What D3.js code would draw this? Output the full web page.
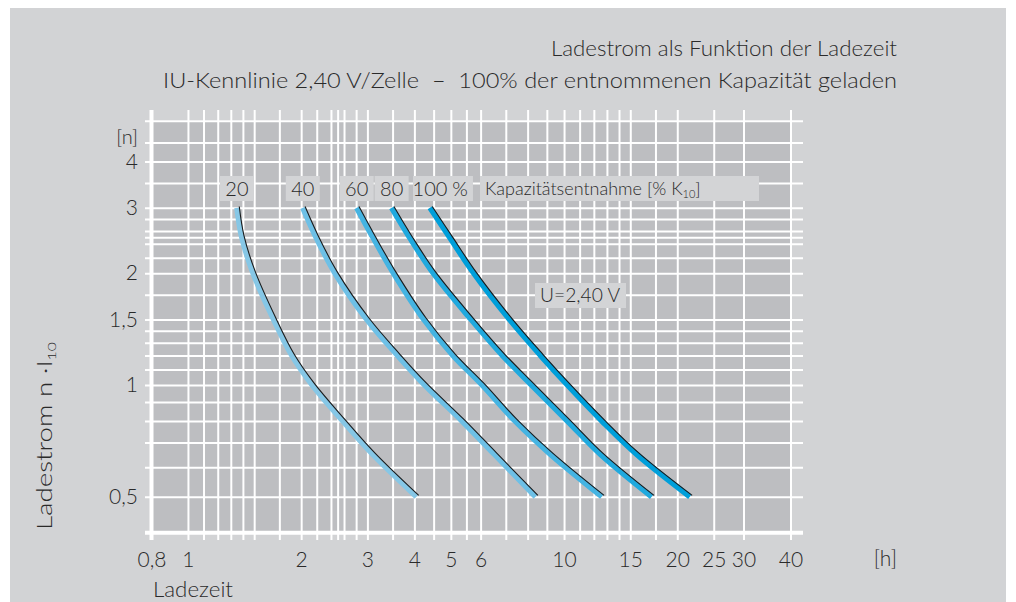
<!DOCTYPE html>
<html>
<head>
<meta charset="utf-8">
<script src="https://cdn.jsdelivr.net/npm/d3@7"></script>
<style>
  html, body { margin: 0; padding: 0; background: #ffffff; }
  svg { display: block; }
  text { font-family: Lato, "Open Sans", "DejaVu Sans", sans-serif; font-weight: 300; fill: #2a2a2a; }
</style>
</head>
<body>
<svg id="chart" width="1016" height="602"></svg>
<script>
// Charging current (multiples of I10) reached at each charging time, one curve per discharged capacity
const capacityLevels = [20, 40, 60, 80, 100];
const currentLevels = [3, 2.5, 2, 1.5, 1.2, 1, 0.8, 0.65, 0.5];
const hours20  = [1.35, 1.39, 1.49, 1.69, 1.89, 2.14, 2.58, 3.10, 4.05];
const hours40  = [2.02, 2.19, 2.46, 2.99, 3.61, 4.26, 5.35, 6.53, 8.40];
const hours60  = [2.81, 3.10, 3.52, 4.24, 5.07, 6.05, 7.40, 9.20, 12.6];
const hours80  = [3.48, 3.88, 4.49, 5.66, 6.86, 8.19, 10.2, 12.5, 17.1];
const hours100 = [4.40, 4.96, 5.75, 7.16, 8.66, 10.2, 12.6, 15.6, 21.6];
const curveColors = ["#86c7e6", "#6ec0e6", "#45b4e2", "#20a9de", "#009fda"];

// Axis ticks and grid
const xTickValues = [0.8, 1, 2, 3, 4, 5, 6, 10, 15, 20, 25, 30, 40];
const xTickLabels = ["0,8", "1", "2", "3", "4", "5", "6", "10", "15", "20", "25", "30", "40"];
const xGridValues = [1, 1.1, 1.2, 1.3, 1.4, 1.5, 1.75, 2, 2.2, 2.4, 2.5, 2.6, 2.8, 3, 3.5, 4, 4.5, 5, 5.5, 6, 7, 8, 9, 10, 11, 12, 13, 14, 15, 17.5, 20, 25, 30, 40];
const yTickValues = [4, 3, 2, 1.5, 1, 0.5];
const yTickLabels = ["4", "3", "2", "1,5", "1", "0,5"];
const yGridValues = [0.5, 0.6, 0.7, 0.8, 0.9, 1, 1.1, 1.2, 1.3, 1.4, 1.5, 1.75, 2, 2.2, 2.4, 2.5, 2.6, 2.8, 3, 3.5, 4, 4.5];

const seriesHours = [hours20, hours40, hours60, hours80, hours100];

const svg = d3.select("#chart");

// scales: logarithmic on both axes
const x = d3.scaleLog().domain([0.8, 40]).range([151.5, 790.5]);
const y = d3.scaleLog().domain([0.4, 5.15]).range([532.7, 120.7]);

const gridLeft = 145, gridRight = 803, gridTop = 110, gridBottom = 540;

// stretch a text element to a given advance width
function fit(sel, width) {
  sel.attr("textLength", width).attr("lengthAdjust", "spacingAndGlyphs");
  return sel;
}

// panel background
svg.append("rect").attr("x", 10).attr("y", 8).attr("width", 996).attr("height", 594).attr("fill", "#d2d3d5");

// plot area
svg.append("rect")
  .attr("x", x(0.8)).attr("y", y(5.15))
  .attr("width", x(40) - x(0.8)).attr("height", y(0.4) - y(5.15))
  .attr("fill", "#bdbec1");

// vertical grid
const gx = svg.append("g").attr("transform", `translate(0,${gridBottom})`)
  .call(d3.axisBottom(x).tickValues(xGridValues).tickSize(-(gridBottom - gridTop)).tickSizeOuter(0).tickFormat(""));
gx.select(".domain").remove();
gx.selectAll("line").attr("stroke", "#ffffff").attr("stroke-width", 2);

// horizontal grid
const gy = svg.append("g").attr("transform", `translate(${gridLeft},0)`)
  .call(d3.axisLeft(y).tickValues(yGridValues.concat([5.15])).tickSize(-(gridRight - gridLeft)).tickSizeOuter(0).tickFormat(""));
gy.select(".domain").remove();
gy.selectAll("line").attr("stroke", "#ffffff").attr("stroke-width", 2);

// heavy axis lines
svg.append("line").attr("x1", x(0.8)).attr("x2", x(0.8)).attr("y1", gridTop).attr("y2", gridBottom)
  .attr("stroke", "#ffffff").attr("stroke-width", 4);
svg.append("line").attr("x1", gridLeft).attr("x2", gridRight).attr("y1", y(0.4)).attr("y2", y(0.4))
  .attr("stroke", "#ffffff").attr("stroke-width", 4);

// curves
const line = d3.line().x(d => x(d.t)).y(d => y(d.n)).curve(d3.curveCatmullRom.alpha(0.5));
const series = capacityLevels.map((c, i) => ({
  cap: c,
  color: curveColors[i],
  pts: currentLevels.map((n, j) => ({ n: n, t: seriesHours[i][j] }))
}));

const curves = svg.append("g");
series.forEach(s => {
  curves.append("path").attr("d", line(s.pts)).attr("fill", "none")
    .attr("stroke", s.color).attr("stroke-width", 5.5);
  curves.append("path").attr("d", line(s.pts)).attr("fill", "none")
    .attr("stroke", "#1b1b1b").attr("stroke-width", 1.1)
    .attr("transform", "translate(2.3,-1.3)");
});

// curve labels along the top of the curves
const boxFill = "#d3d4d6";
const boxTop = 176, boxH = 25;
series.forEach((s, i) => {
  const cx = x(s.pts[0].t);
  const last = i === series.length - 1;
  const x0 = cx - 17, w = last ? 60 : 34;
  svg.append("rect").attr("x", x0).attr("y", boxTop).attr("width", w).attr("height", boxH).attr("fill", boxFill);
  svg.append("text").attr("x", cx).attr("y", boxTop + 20).attr("text-anchor", "middle")
    .attr("font-size", 20).text(s.cap);
  if (last) {
    svg.append("text").attr("x", cx + 30).attr("y", boxTop + 20).attr("text-anchor", "middle")
      .attr("font-size", 20).text("%");
  }
});

// caption box
svg.append("rect").attr("x", 480).attr("y", boxTop).attr("width", 279).attr("height", boxH).attr("fill", boxFill);
const cap = svg.append("text").attr("x", 485).attr("y", boxTop + 19).attr("font-size", 18);
cap.append("tspan").text("Kapazitätsentnahme [% K");
cap.append("tspan").attr("font-size", 11).attr("dy", 3).text("10");
cap.append("tspan").attr("dy", -3).text("]");

// voltage box
svg.append("rect").attr("x", 535).attr("y", 283).attr("width", 91).attr("height", 25).attr("fill", boxFill);
fit(svg.append("text").attr("x", 540).attr("y", 302).attr("font-size", 20).text("U=2,40 V"), 80);

// tick labels
const xa = svg.append("g").attr("transform", `translate(0,${gridBottom})`)
  .call(d3.axisBottom(x).tickValues(xTickValues).tickSize(0).tickPadding(12)
    .tickFormat((d, i) => xTickLabels[i]));
xa.select(".domain").remove();
xa.selectAll("text").attr("font-size", 21).attr("font-family", null).attr("fill", "#2a2a2a");

const ya = svg.append("g").attr("transform", `translate(${x(0.8)},0)`)
  .call(d3.axisLeft(y).tickValues(yTickValues).tickSize(0).tickPadding(13.5)
    .tickFormat((d, i) => yTickLabels[i]));
ya.select(".domain").remove();
ya.selectAll("text").attr("font-size", 21).attr("font-family", null).attr("fill", "#2a2a2a");

svg.append("text").attr("x", 138).attr("y", 144).attr("text-anchor", "end").attr("font-size", 20).text("[n]");
svg.append("text").attr("x", 897).attr("y", 566).attr("text-anchor", "end").attr("font-size", 21).text("[h]");
fit(svg.append("text").attr("x", 153).attr("y", 597).attr("font-size", 21).text("Ladezeit"), 80);

// y axis title
const yt = svg.append("text").attr("transform", "translate(52,436) rotate(-90)")
  .attr("text-anchor", "middle").attr("font-size", 21);
yt.append("tspan").text("Ladestrom n ·I");
yt.append("tspan").attr("font-size", 12).attr("dy", 4).text("10");
fit(yt, 188);

// titles
fit(svg.append("text").attr("x", 551).attr("y", 56).attr("font-size", 21)
  .text("Ladestrom als Funktion der Ladezeit"), 346);
fit(svg.append("text").attr("x", 163).attr("y", 88).attr("font-size", 21)
  .text("IU-Kennlinie 2,40 V/Zelle\u00a0\u00a0–\u00a0\u00a0100% der entnommenen Kapazität geladen"), 734);
</script>
</body>
</html>
